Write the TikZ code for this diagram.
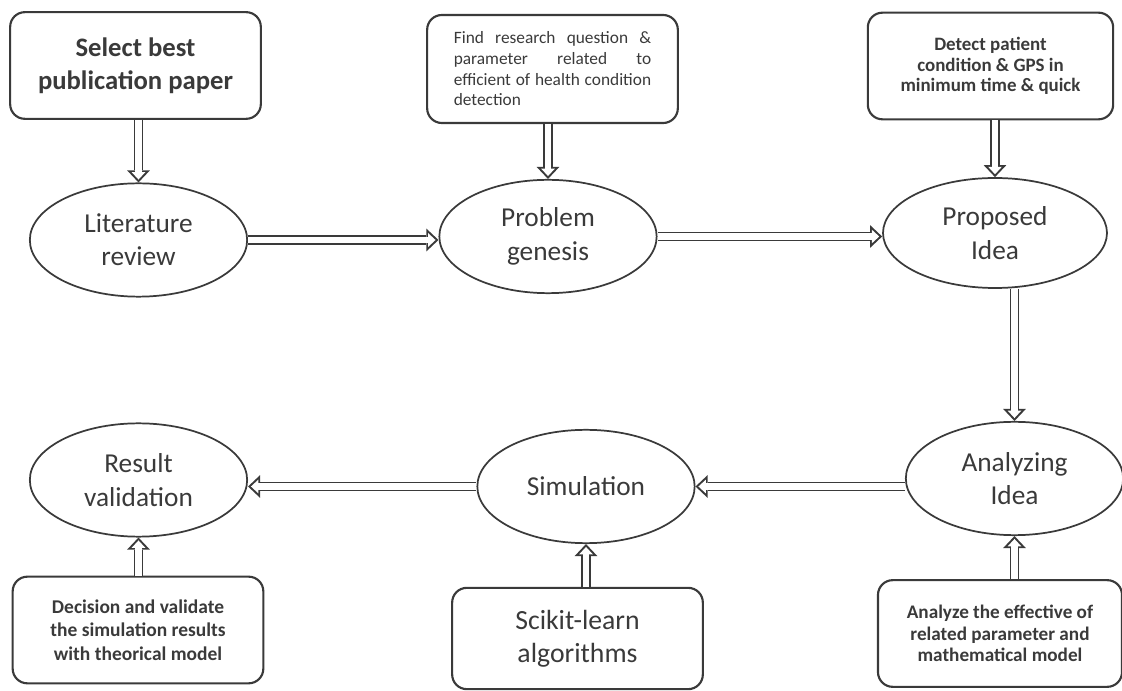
\documentclass[tikz,border=0pt]{standalone}
\usepackage{fontspec}
\setmainfont{Carlito}
\usepackage{tikz}
\usepackage{xcolor}
\usetikzlibrary{arrows.meta,shapes.geometric}
\definecolor{ink}{HTML}{3A3A3A}

\begin{document}
\begin{tikzpicture}[x=0.75pt, y=-0.75pt, every node/.style={text=ink, align=center},
  stage/.style={ellipse, draw=ink, line width=1.3pt, minimum width=163pt, minimum height=85pt, inner sep=0pt, font=\fontsize{20.5}{25}\selectfont},
  note/.style={draw=ink, line width=1.6pt, rounded corners=11pt, inner sep=0pt, minimum width=188pt, minimum height=80pt},
  small/.style={font=\fontsize{14.6}{17.5}\selectfont\bfseries},
  flow/.style={draw=ink, line width=7.2pt, -{Triangle[length=9pt,width=17pt,line width=0pt]},
    postaction={draw=white, line width=4.6pt, shorten >=2.2pt, -{Triangle[length=5.5pt,width=10.2pt,line width=0pt]}}}]
  \useasboundingbox (0,0) rectangle (1122,691);

  % upper row
  \node[note, font=\fontsize{20}{24.5}\selectfont\bfseries] (sel) at (135.5,65.5) {Select best\\publication paper};
  \node[note, minimum height=81pt, text width=148pt, align=justify, font=\fontsize{13}{15.5}\selectfont] (find) at (552.5,69)
    {Find research question \&\linebreak parameter related to\linebreak efficient of health condition\linebreak detection};
  \node[note, minimum width=184pt, small, font=\fontsize{14.2}{15.5}\selectfont\bfseries] (det) at (990.5,66) {Detect patient\\condition \& GPS in\\minimum time \& quick};

  \node[stage] (lit) at (138.5,240) {Literature\\review};
  \node[stage] (prob) at (548,236.5) {Problem\\genesis};
  \node[stage, minimum width=168pt, minimum height=82.5pt] (prop) at (995,233) {Proposed\\Idea};

  % lower row
  \node[stage] (res) at (138.5,480) {Result\\validation};
  \node[stage] (sim) at (586,486.5) {Simulation};
  \node[stage] (ana) at (1014.5,478.5) {Analyzing\\Idea};

  \node[note, small] (dec) at (138,630) {Decision and validate\\the simulation results\\with theorical model};
  \node[note, minimum height=76pt, font=\fontsize{20.8}{25}\selectfont] (sci) at (577.5,638.5) {Scikit-learn\\algorithms};
  \node[note, minimum width=183pt, small, font=\fontsize{14.4}{16.3}\selectfont\bfseries] (anl) at (1000,633.5) {Analyze the effective of\\related parameter and\\mathematical model};

  % connectors
  \draw[flow] (lit.north |- sel.south) -- (lit.north);
  \draw[flow] (prob.north |- find.south) -- (prob.north);
  \draw[flow] (prop.north |- det.south) -- (prop.north);
  \draw[flow] (lit.east) -- (lit.east -| prob.west);
  \draw[flow] (prob.east) -- (prob.east -| prop.west);
  \draw[flow] (ana.north |- prop.south) -- (ana.north);
  \draw[flow] (sim.east -| ana.west) -- (sim.east);
  \draw[flow] (sim.west) -- (sim.west -| res.east);
  \draw[flow] (res.south |- dec.north) -- (res.south);
  \draw[flow] (sim.south |- sci.north) -- (sim.south);
  \draw[flow] (ana.south |- anl.north) -- (ana.south);
\end{tikzpicture}
\end{document}
